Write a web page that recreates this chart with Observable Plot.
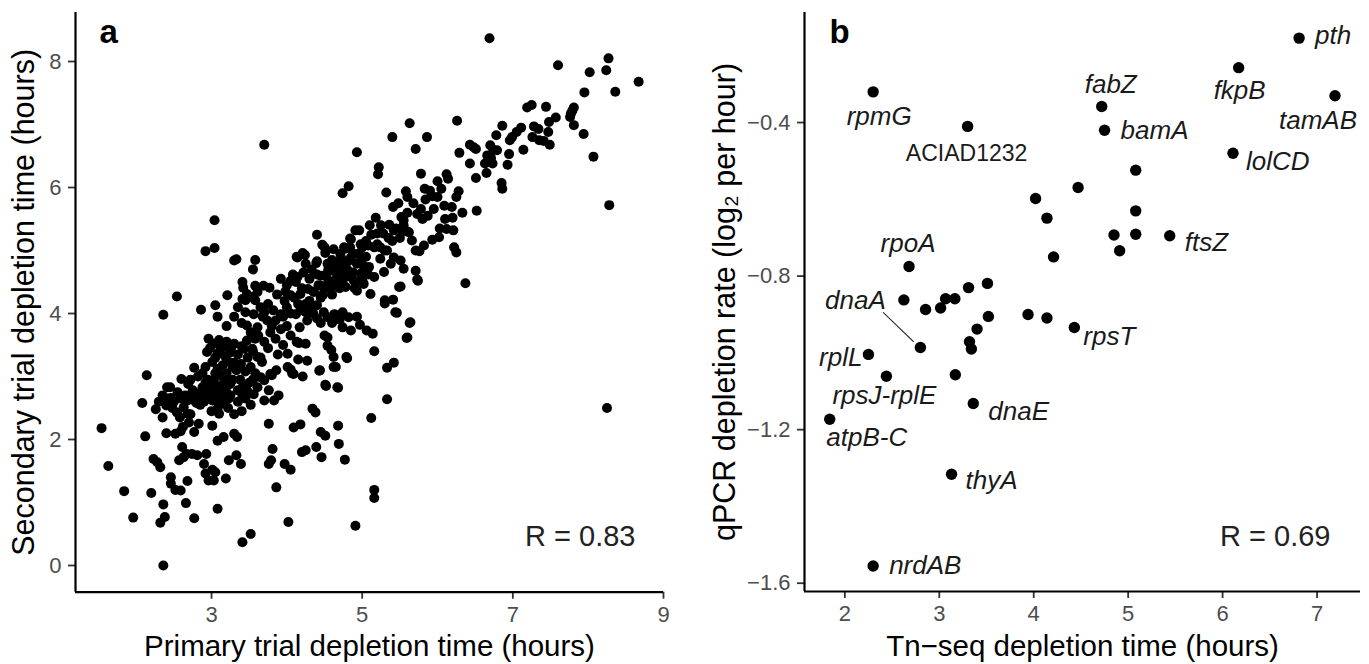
<!DOCTYPE html>
<html><head><meta charset="utf-8">
<script src="https://cdn.jsdelivr.net/npm/d3@7"></script>
<script src="https://cdn.jsdelivr.net/npm/@observablehq/plot@0.6"></script>
<style>
body{margin:0;background:#fff;}
#wrap{display:flex;width:1369px;height:664px;overflow:hidden;}
svg{display:block;font-family:"Liberation Sans",Arial,sans-serif;overflow:visible;}
</style></head><body><div id="wrap"></div>
<script>
// ---------- Panel a: primary vs secondary trial depletion time (hours) ----------
const trialPairs = [
[6.69,8.37],[7.60,7.94],[8.27,8.05],[8.24,7.86],[8.02,7.83],[8.67,7.68],[7.95,7.51],[8.36,7.52],
[7.19,7.27],[7.25,7.31],[7.44,7.28],[7.57,7.11],[7.48,7.04],[7.77,7.17],[7.81,7.27],[7.79,7.22],
[7.76,7.12],[7.81,6.99],[7.94,6.85],[8.07,6.49],[8.28,5.72],[6.86,6.98],[7.11,6.95],[7.05,6.88],
[6.99,6.80],[6.96,6.75],[7.28,6.97],[7.34,6.93],[7.47,6.88],[7.26,6.80],[7.35,6.75],[7.41,6.74],
[7.49,6.68],[7.14,6.60],[6.78,6.83],[6.43,6.68],[6.48,6.64],[6.51,6.61],[6.26,7.06],[6.70,6.67],
[6.74,6.60],[6.79,6.59],[6.95,6.53],[6.29,6.55],[6.43,6.38],[6.66,6.51],[6.71,6.47],[6.73,6.38],
[6.63,6.38],[6.93,6.36],[6.65,6.23],[6.51,6.15],[6.85,6.07],[6.86,5.98],[6.52,5.63],[6.33,5.60],
[5.63,7.02],[5.40,6.80],[5.86,6.80],[5.71,6.61],[4.93,6.56],[5.22,6.32],[5.21,6.21],[4.82,6.02],
[4.74,5.91],[5.78,6.22],[5.32,5.92],[5.58,5.94],[5.83,5.98],[6.00,6.10],[6.12,6.21],[6.14,6.14],
[6.28,5.94],[6.25,5.85],[5.93,5.86],[6.00,5.85],[5.84,5.81],[5.78,5.66],[5.95,5.66],[6.09,5.71],
[6.19,5.69],[6.20,5.52],[5.41,5.69],[5.18,5.52],[5.52,5.53],[5.55,5.48],[5.80,5.50],[5.73,5.58],
[6.03,5.35],[6.12,5.34],[6.21,5.32],[6.02,5.21],[5.93,5.17],[5.82,5.08],[5.66,5.16],[5.62,5.29],
[5.36,5.41],[5.42,5.32],[5.53,5.32],[5.28,5.27],[5.40,5.15],[5.71,5.00],[4.96,5.32],[4.85,5.18],
[4.76,5.05],[5.20,5.27],[5.16,5.05],[5.24,5.05],[5.33,5.00],[6.22,5.05],[6.25,4.97],[5.76,4.99],
[6.37,4.48],[5.73,4.54],[5.71,4.68],[5.49,4.42],[5.41,4.22],[5.30,4.21],[5.42,4.89],[5.51,4.84],
[5.55,4.71],[5.38,4.79],[5.29,4.66],[5.24,4.87],[4.85,4.89],[4.93,4.79],[5.02,4.89],[5.09,4.74],
[4.98,4.63],[4.89,4.52],[4.80,4.68],[5.16,4.58],[5.02,4.47],[4.78,4.42],[4.93,4.36],[5.11,4.31],
[5.44,4.02],
[3.70,6.68],[3.04,5.48],[2.92,4.99],[3.04,5.04],[3.30,4.84],[3.33,4.86],[3.58,4.85],[3.55,4.70],
[2.54,4.27],[3.21,4.29],[3.41,4.50],[3.42,4.41],[3.47,4.31],[3.41,4.23],[3.58,4.44],[3.69,4.44],
[3.77,4.41],[3.61,4.34],[3.54,4.26],[3.92,4.55],[4.14,4.89],[4.21,4.96],[4.40,5.25],[4.47,5.09],
[4.51,4.96],[4.25,4.79],[4.40,4.83],[4.14,4.58],[4.12,4.50],[4.28,4.39],[4.36,4.34],[4.54,4.79],
[4.57,4.68],[4.67,4.79],[4.71,4.95],[4.78,5.03],[4.84,5.19],[4.91,5.32],[4.84,5.05],[4.70,4.74],
[4.76,4.63],[4.85,4.58],[4.45,4.44],[4.05,4.29],[4.18,4.31],
[2.36,3.98],[2.86,4.06],[3.05,4.13],[3.08,3.95],[3.45,4.21],[3.58,4.21],[3.45,4.02],[3.56,3.99],
[3.70,4.02],[3.74,3.89],[3.61,3.78],[3.47,3.81],[3.92,3.99],[3.85,3.89],[4.12,3.99],[4.18,4.05],
[4.25,4.02],[4.34,4.07],[4.40,4.13],[4.49,4.02],[4.54,3.94],[4.63,3.99],[4.74,4.02],[4.82,3.94],
[4.27,3.89],[4.40,3.92],[4.17,3.78],[4.54,3.62],[4.54,3.49],[4.62,3.31],[4.79,3.31],[4.85,3.73],
[4.43,3.09],[4.62,3.15],[4.51,2.87],[4.67,2.83],[4.25,3.52],[4.16,3.53],[4.27,3.25],[4.15,3.27],
[4.01,3.36],[4.05,3.11],[4.09,3.04],[4.21,3.00],[3.86,3.10],[3.80,3.02],[3.89,2.70],[3.83,2.62],
[3.70,2.62],[3.76,2.78],[3.70,2.94],[3.61,2.83],[3.65,2.99],[3.78,3.04],[3.56,2.72],[3.47,2.78],
[3.41,2.70],[3.61,3.31],[3.67,3.23],[3.58,3.60],[3.47,3.57],[3.54,3.44],[3.43,3.44],[3.30,3.52],
[3.21,3.47],[3.12,3.44],[3.08,3.36],[2.96,3.60],[2.94,3.39],[3.01,3.23],[3.21,3.25],[3.28,3.15],
[3.39,3.20],[3.08,3.12],[3.12,3.02],[3.19,2.94],[3.25,2.88],[3.03,2.94],[2.96,2.83],[3.08,2.83],
[2.88,2.83],[2.81,2.72],[2.77,2.62],[2.85,2.67],[2.94,2.72],[3.01,2.62],[3.10,2.70],[3.19,2.78],
[3.23,2.65],[3.16,2.57],[3.08,2.49],[3.10,2.41],[3.01,2.22],[2.83,2.25],[2.77,2.12],[2.70,2.27],
[2.68,2.41],[2.63,2.51],[2.59,2.65],[2.68,2.62],[2.54,2.43],[2.60,2.96],[2.69,2.88],[2.77,3.14],
[2.41,2.83],[2.45,2.83],[2.42,2.65],[2.46,2.66],[2.40,2.54],[2.26,2.48],[2.08,2.58],[2.14,3.02],
[2.12,2.05],[2.40,2.10],[2.52,2.09],[2.59,2.13],[2.61,1.88],[2.67,1.77],[2.74,1.77],[2.57,1.67],
[2.63,1.72],[2.81,1.75],[2.90,1.61],[2.93,1.77],[2.92,1.46],[2.96,1.35],[3.03,1.35],[3.05,1.48],
[3.01,1.52],[3.19,1.38],[3.08,1.98],[3.16,2.04],[3.30,2.09],[3.34,2.04],[3.23,1.67],[3.33,1.75],
[3.39,1.61],[3.76,2.25],[3.81,1.85],[3.79,1.67],[3.76,1.61],[3.97,1.61],[4.05,1.52],[3.86,1.24],
[4.09,2.19],[4.18,2.24],[4.34,2.49],[4.38,2.43],[4.45,2.12],[4.51,2.06],[4.68,2.22],[4.20,1.80],
[4.25,1.83],[4.39,1.88],[4.46,1.72],[4.69,1.93],[4.77,1.68],[4.91,0.63],[4.02,0.69],[3.41,0.37],
[3.52,0.50],[3.08,0.90],[2.77,0.75],[2.66,0.99],[2.36,0.97],[2.32,0.68],[2.38,0.77],[1.96,0.76],
[1.84,1.18],[2.20,1.15],[2.46,1.40],[2.46,1.30],[2.52,1.20],[2.59,1.19],[2.68,1.34],[1.63,1.58],
[1.54,2.18],[2.36,0.00],[2.23,1.69],[2.28,1.64],[2.32,1.56],
[5.74,4.52],[5.30,4.16],[4.93,3.95],[4.97,3.82],[4.74,3.78],[5.06,3.73],[5.14,3.68],[5.63,3.85],
[5.59,3.61],[5.16,3.40],[5.33,3.14],[5.42,3.22],[5.33,2.64],[5.12,2.34],[5.16,1.20],[5.16,1.07],
[8.25,2.50],
[4.13,3.55],[4.50,3.65],[4.59,3.42],[4.65,3.15],[4.68,2.82],[4.80,3.29],[4.44,3.10],[4.52,2.85],
[4.01,3.15],[4.07,3.05],[4.13,4.90],[4.24,4.93],[4.39,4.80],[5.46,4.01],[5.51,4.43],[5.60,3.62],
[5.64,3.86],[3.20,3.55],[3.15,3.50],[3.25,3.38],[3.97,4.20],[4.00,4.45],[4.08,4.62],[3.87,4.30],
[2.65,2.70],[2.72,2.65],[2.80,2.58],[2.86,2.75],[2.90,2.60],[2.98,2.68],[3.05,2.75],[3.12,2.65],
[3.15,2.88],[3.20,3.05],[3.28,2.95],[3.33,3.10],[3.38,2.95],[3.45,3.08],[3.50,2.90],[3.05,3.05],
[2.95,2.95],[2.85,2.55],[3.10,2.55],[3.18,2.75],[3.25,2.70],[3.35,2.60],[3.42,2.85],[2.75,2.78],
[3.00,2.45],[3.22,2.50],[3.30,3.22],[3.15,3.18],[3.52,3.15],[3.58,3.05],
[4.35,4.35],[4.42,4.45],[4.50,4.40],[4.55,4.52],[4.62,4.48],[4.68,4.60],[4.75,4.55],[4.80,4.70],
[4.88,4.65],[4.95,4.80],[5.02,4.75],[4.60,4.30],[4.70,4.40],[4.45,4.25],[4.30,4.20],[4.25,4.15],
[4.52,4.62],[4.85,4.85],[4.95,4.95],[5.05,4.90],[4.72,4.88],[4.62,4.72],[4.40,4.62],[4.92,4.50],
[5.08,4.62],[4.20,4.40],[4.10,4.25],[4.00,4.10],[3.95,3.95],[4.05,4.00],
[3.62,3.65],[3.70,3.55],[3.78,3.70],[3.85,3.60],[3.92,3.75],[4.00,3.80],[3.75,3.45],[3.88,3.35],
[3.95,3.50],[4.05,3.65],[3.65,3.30],[3.55,3.40],
[5.05,5.15],[5.12,5.25],[5.20,5.10],[5.25,5.40],[5.30,5.00],[5.35,5.20],[5.45,5.35],[5.50,5.20],
[5.55,5.40],[5.60,5.30],[5.10,5.40],[5.00,5.05],
[2.98,3.45],[3.02,3.52],[3.10,3.58],[3.18,3.32],[3.26,3.45],[3.35,3.35],[3.40,3.48],[3.48,3.30],
[3.05,3.30],[2.92,3.15],[2.88,3.05],[3.35,2.78],[3.45,2.65],[3.52,2.55],[3.30,2.40],[3.40,2.45],
[3.55,2.95],[2.72,2.95],[2.82,3.00],[2.92,2.90],[2.55,2.75],[2.50,2.60],[2.35,2.70],[2.30,2.60],
[2.48,2.50],[2.58,2.35],[2.35,2.35],[2.62,2.20],[2.72,2.40],
[4.45,4.60],[4.55,4.70],[4.65,4.55],[4.72,4.45],[4.78,4.78],[4.88,4.95],[4.98,5.10],[5.08,5.08],
[4.60,4.85],[4.50,5.05],[4.62,5.02],[4.30,4.55],[4.22,4.65],[4.33,4.70],[4.48,4.30],[4.58,4.40],
[4.82,4.62],[4.90,4.40],[5.00,4.55],[4.15,4.15],[4.35,4.00],[4.45,3.85],[4.60,3.85],[4.70,3.90],
[4.05,4.52],[3.98,4.35],
[3.75,4.15],[3.82,4.05],[3.65,4.10],[3.80,3.80],[3.68,3.95],[3.52,3.70],[3.40,3.85],[3.30,3.95],
[3.20,3.80],[3.35,4.10],
[5.60,5.60],[5.68,5.75],[5.90,5.95],[6.05,5.98],[5.87,5.55],[6.10,5.50],[5.48,5.75],[5.60,5.85]
];
const ticksAx = [3, 5, 7, 9];
const ticksAy = [0, 2, 4, 6, 8];
const rA = "R = 0.83";

// ---------- Panel b: Tn-seq depletion time vs qPCR depletion rate ----------
const geneNames = ["rpmG","ACIAD1232","fabZ","bamA","pth","fkpB","tamAB","lolCD","","","","","","","","ftsZ","","","rpoA","","","","","","","","","","","rpsT","","","","dnaA","rplL","rpsJ-rplE","","dnaE","atpB-C","thyA","nrdAB"];
const tnseqTime = [2.30,3.30,4.72,4.75,6.81,6.17,7.19,6.11,5.08,4.47,4.02,4.14,5.08,4.85,5.08,5.44,4.91,4.21,2.68,3.51,3.31,2.625,3.067,3.165,2.855,3.014,3.52,3.94,4.14,4.43,3.40,3.32,3.34,2.80,2.25,2.44,3.17,3.36,1.84,3.13,2.30];
const qpcrRate = [-0.32,-0.41,-0.358,-0.42,-0.18,-0.257,-0.33,-0.48,-0.524,-0.569,-0.598,-0.649,-0.63,-0.693,-0.691,-0.695,-0.734,-0.75,-0.775,-0.819,-0.83,-0.862,-0.859,-0.859,-0.887,-0.883,-0.905,-0.90,-0.909,-0.934,-0.938,-0.971,-0.99,-0.986,-1.004,-1.061,-1.057,-1.132,-1.173,-1.316,-1.555];
const ticksBx = [2, 3, 4, 5, 6, 7];
const ticksBy = [-1.6, -1.2, -0.8, -0.4];
const rB = "R = 0.69";

// label placement (pixel offsets from each point, like ggrepel output)
const labelLayout = {
  "rpmG": [6, 25, "middle"], "ACIAD1232": [-1, 27, "middle"], "rpoA": [-1, -23, "middle"],
  "dnaA": [-65, -47, "middle"], "rplL": [-6, 3, "end"], "rpsJ-rplE": [-2, 19, "middle"],
  "atpB-C": [37, 18, "middle"], "dnaE": [15, 8, "start"], "thyA": [14, 6, "start"],
  "nrdAB": [16, 0, "start"], "rpsT": [9, 9, "start"], "ftsZ": [15, 7, "start"],
  "fabZ": [9, -22, "middle"], "bamA": [16, 0, "start"], "fkpB": [1, 23, "middle"],
  "pth": [16, -2, "start"], "tamAB": [-17, 25, "middle"], "lolCD": [13, 8, "start"]
};

const FONT = '"Liberation Sans", Arial, sans-serif';
const TICK = 22, TITLE = 29.5, YTITLE = 30.5;

function axisCommon(extra) {
  return Object.assign({tickSize: 7, tickPadding: 7, fontSize: TICK, stroke: "#333", strokeWidth: 1.8, fill: "#4d4d4d", label: null}, extra);
}

// ---- Plot a ----
const xDomA = [1.194, 9.0], yDomA = [-0.424, 8.778];
const plotA = Plot.plot({
  width: 680, height: 664,
  marginLeft: 75, marginRight: 17, marginTop: 12, marginBottom: 72.3,
  style: {fontFamily: FONT, background: "white"},
  x: {domain: xDomA, label: null},
  y: {domain: yDomA, label: null},
  marks: [
    Plot.axisX(ticksAx, axisCommon({tickFormat: d => String(d)})),
    Plot.axisY(ticksAy, axisCommon({tickFormat: d => String(d)})),
    Plot.dot(trialPairs, {x: d => d[0], y: d => d[1], r: 5, fill: "black", stroke: null}),
    Plot.ruleY([yDomA[0]], {stroke: "black", strokeWidth: 2.2}),
    Plot.ruleX([xDomA[0]], {stroke: "black", strokeWidth: 2.2}),
    Plot.text([rA], {text: d => d, frameAnchor: "bottom-right", dx: -28, dy: -46.7, textAnchor: "end", lineAnchor: "bottom", fontSize: 29, fill: "#222"}),
    Plot.text(["a"], {text: d => d, frameAnchor: "top-left", dx: 24, dy: 30, textAnchor: "start", lineAnchor: "bottom", fontSize: 33, fontWeight: "bold", fill: "black"}),
    Plot.text(["Primary trial depletion time (hours)"], {text: d => d, frameAnchor: "bottom", dy: 63.3, textAnchor: "middle", lineAnchor: "bottom", fontSize: TITLE, fill: "black"}),
    Plot.text(["Secondary trial depletion time (hours)"], {text: d => d, frameAnchor: "left", dx: -42, rotate: -90, textAnchor: "middle", lineAnchor: "bottom", fontSize: YTITLE, fill: "black"})
  ]
});

// ---- Plot b ----
const geneRows = geneNames.map((g, i) => ({gene: g, x: tnseqTime[i], y: qpcrRate[i]}));
const xDomB = [1.573, 7.46], yDomB = [-1.6216, -0.1133];
const minus = d => d.toFixed(1).replace("-", "\u2212");
const labelMarks = geneRows.filter(d => d.gene !== "").map(d => {
  const [dx, dy, anchor] = labelLayout[d.gene];
  const roman = d.gene === "ACIAD1232";
  return Plot.text([d], {x: "x", y: "y", text: "gene", dx, dy, textAnchor: anchor, lineAnchor: "middle",
    fontSize: roman ? 23 : 26, fontStyle: roman ? "normal" : "italic", fill: "#1a1a1a"});
});
const dnaARow = geneRows.filter(d => d.gene === "dnaA");
const plotB = Plot.plot({
  width: 689, height: 664,
  marginLeft: 124, marginRight: 9, marginTop: 12, marginBottom: 73,
  style: {fontFamily: FONT, background: "white"},
  x: {domain: xDomB, label: null},
  y: {domain: yDomB, label: null},
  marks: [
    Plot.axisX(ticksBx, axisCommon({tickFormat: d => String(d)})),
    Plot.axisY(ticksBy, axisCommon({tickFormat: minus})),
    Plot.vector(dnaARow, {x: "x", y: "y", length: 41.7, rotate: -46, anchor: "start", dx: -7, dy: -6,
      stroke: "#333", strokeWidth: 1.1,
      shape: {draw(ctx, l) { ctx.moveTo(0, 0); ctx.lineTo(0, -l); }}}),
    Plot.dot(geneRows, {x: "x", y: "y", r: 5.7, fill: "black", stroke: null}),
    ...labelMarks,
    Plot.ruleY([yDomB[0]], {stroke: "black", strokeWidth: 2.2}),
    Plot.ruleX([xDomB[0]], {stroke: "black", strokeWidth: 2.2}),
    Plot.text([rB], {text: d => d, frameAnchor: "bottom-right", dx: -30, dy: -45.3, textAnchor: "end", lineAnchor: "bottom", fontSize: 29, fill: "#222"}),
    Plot.text(["b"], {text: d => d, frameAnchor: "top-left", dx: 25, dy: 30, textAnchor: "start", lineAnchor: "bottom", fontSize: 33, fontWeight: "bold", fill: "black"}),
    Plot.text(["Tn\u2212seq depletion time (hours)"], {text: d => d, frameAnchor: "bottom", dy: 64, textAnchor: "middle", lineAnchor: "bottom", fontSize: TITLE, fill: "black"}),
    Plot.text(["qPCR depletion rate (log\u2082 per hour)"], {text: d => d, frameAnchor: "left", dx: -70, rotate: -90, textAnchor: "middle", lineAnchor: "bottom", fontSize: YTITLE, fill: "black"})
  ]
});

const wrap = document.getElementById("wrap");
wrap.appendChild(plotA);
wrap.appendChild(plotB);
</script>
</body></html>
